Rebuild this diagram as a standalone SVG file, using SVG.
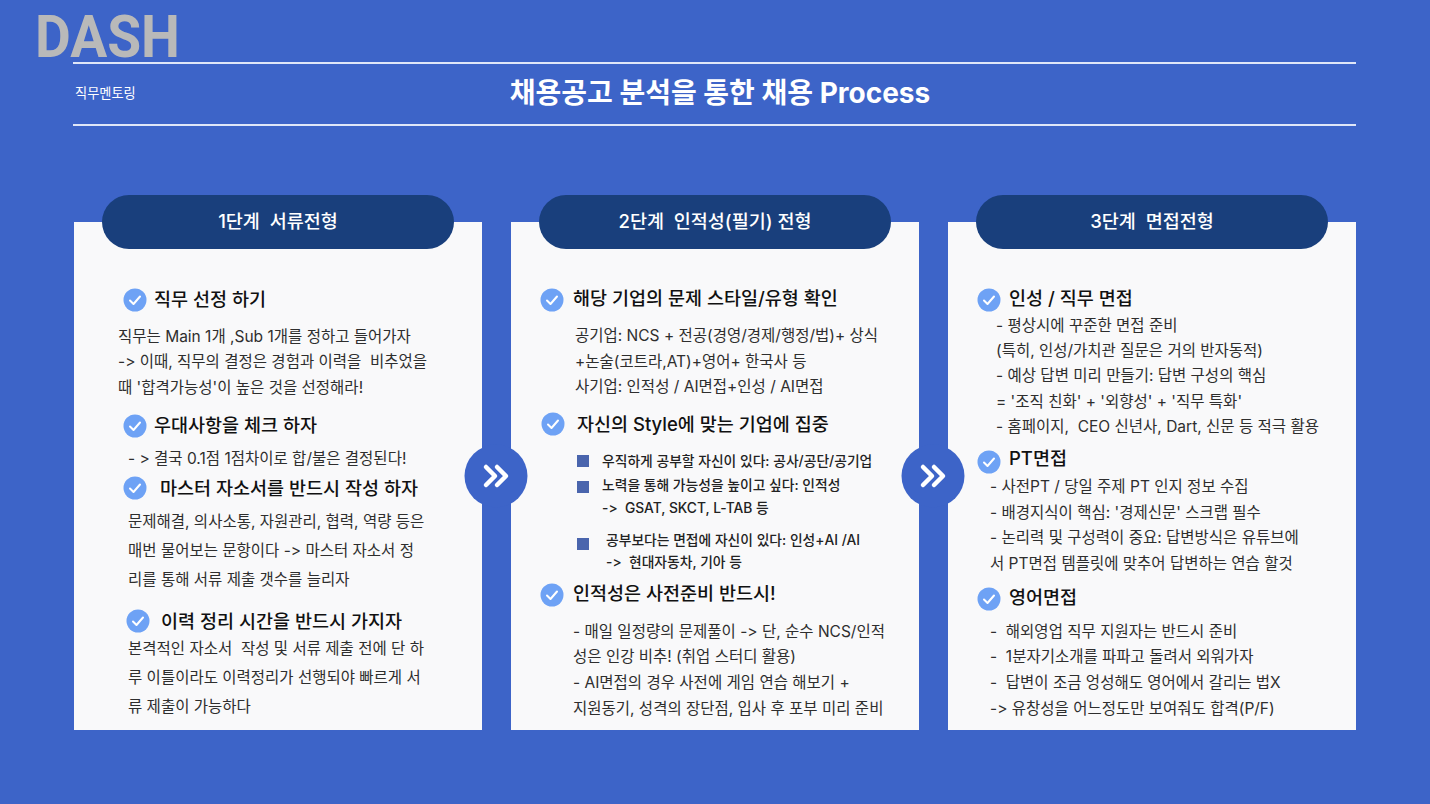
<svg xmlns="http://www.w3.org/2000/svg" width="1430" height="804" viewBox="0 0 1430 804">
<style>
text{font-family:Inter,"Noto Sans CJK KR","Noto Sans",sans-serif;fill:#222;white-space:pre;font-variant-ligatures:none;font-feature-settings:"calt" 0,"liga" 0}
.h{font-size:18.5px;font-weight:500;fill:#111}
.b{font-size:15.5px;fill:#2e2e2e}
.s{font-size:13.8px;font-weight:500;fill:#222}
.t{font-size:18.5px;font-weight:500;fill:#fff;text-anchor:middle}
.card{fill:#f9f9fa}
.pill{fill:#193f7c}
.sq{fill:#4a65ad}
.rule{stroke:#dfe6f8;stroke-width:2}
.chev{fill:none;stroke:#fff;stroke-width:4.5;stroke-linecap:round;stroke-linejoin:round}
.ck{fill:none;stroke:#fff;stroke-width:2;stroke-linecap:round;stroke-linejoin:round}
</style>
<defs>
<g id="check"><circle r="11.5" fill="#6ea2f5"/><path class="ck" d="M-5 0.5L-1.5 4L5 -3.5"/></g>
<g id="next"><circle r="31.5" fill="#3d64c8"/><path class="chev" d="M-10 -9L-1 0L-10 9M1 -9L10 0L1 9"/></g>
</defs>
<rect width="1430" height="804" fill="#3d64c8"/>
<g id="header">
<text x="35" y="57" textLength="145" lengthAdjust="spacingAndGlyphs" style="font-family:Roboto,'Noto Sans',sans-serif;font-size:59px;font-weight:700;fill:#b9b9b9">DASH</text>
<line class="rule" x1="73" y1="63" x2="1356" y2="63"/>
<line class="rule" x1="73" y1="125" x2="1356" y2="125"/>
<text x="75" y="98" style="font-size:13.2px;fill:#fff">직무멘토링</text>
<text x="720" y="103" style="font-size:28px;font-weight:700;fill:#fff;text-anchor:middle">채용공고 분석을 통한 채용 Process</text>
</g>
<g id="stage1">
<rect class="card" x="74" y="222" width="408" height="508"/>
<rect class="pill" x="102" y="195" width="352" height="54" rx="27"/>
<text class="t" x="278" y="228">1단계  서류전형</text>
<use href="#check" x="135" y="300"/><text class="h" x="154" y="306">직무 선정 하기</text>
<text class="b" x="118" y="342">직무는 Main 1개 ,Sub 1개를 정하고 들어가자</text>
<text class="b" x="118" y="367">-&gt; 이때, 직무의 결정은 경험과 이력을  비추었을</text>
<text class="b" x="118" y="393">때 '합격가능성'이 높은 것을 선정해라!</text>
<use href="#check" x="135" y="426"/><text class="h" x="154" y="432">우대사항을 체크 하자</text>
<text class="b" x="128" y="464">- &gt; 결국 0.1점 1점차이로 합/불은 결정된다!</text>
<use href="#check" x="135" y="488"/><text class="h" x="160" y="495">마스터 자소서를 반드시 작성 하자</text>
<text class="b" x="128" y="527">문제해결, 의사소통, 자원관리, 협력, 역량 등은</text>
<text class="b" x="128" y="556">매번 물어보는 문항이다 -&gt; 마스터 자소서 정</text>
<text class="b" x="128" y="585">리를 통해 서류 제출 갯수를 늘리자</text>
<use href="#check" x="138" y="621"/><text class="h" x="161" y="628">이력 정리 시간을 반드시 가지자</text>
<text class="b" x="128" y="654">본격적인 자소서  작성 및 서류 제출 전에 단 하</text>
<text class="b" x="128" y="683">루 이틀이라도 이력정리가 선행되야 빠르게 서</text>
<text class="b" x="128" y="712">류 제출이 가능하다</text>
</g>
<g id="stage2">
<rect class="card" x="511" y="222" width="408" height="508"/>
<rect class="pill" x="539" y="195" width="352" height="54" rx="27"/>
<text class="t" x="715" y="228">2단계  인적성(필기) 전형</text>
<use href="#check" x="552" y="300"/><text class="h" x="573" y="305">해당 기업의 문제 스타일/유형 확인</text>
<text class="b" x="575" y="341">공기업: NCS + 전공(경영/경제/행정/법)+ 상식</text>
<text class="b" x="575" y="367">+논술(코트라,AT)+영어+ 한국사 등</text>
<text class="b" x="575" y="392">사기업: 인적성 / AI면접+인성 / AI면접</text>
<use href="#check" x="553" y="424"/><text class="h" x="577" y="431">자신의 Style에 맞는 기업에 집중</text>
<rect class="sq" x="577" y="455" width="12" height="12"/><text class="s" x="602" y="466">우직하게 공부할 자신이 있다: 공사/공단/공기업</text>
<rect class="sq" x="577" y="481" width="12" height="12"/><text class="s" x="602" y="490">노력을 통해 가능성을 높이고 싶다: 인적성</text>
<text class="s" x="602" y="513">-&gt;  GSAT, SKCT, L-TAB 등</text>
<rect class="sq" x="577" y="538" width="12" height="12"/><text class="s" x="606" y="545">공부보다는 면접에 자신이 있다: 인성+AI /AI</text>
<text class="s" x="606" y="567">-&gt;  현대자동차, 기아 등</text>
<use href="#check" x="552" y="595"/><text class="h" x="573" y="600">인적성은 사전준비 반드시!</text>
<text class="b" x="573" y="637">- 매일 일정량의 문제풀이 -&gt; 단, 순수 NCS/인적</text>
<text class="b" x="573" y="662">성은 인강 비추! (취업 스터디 활용)</text>
<text class="b" x="573" y="688">- AI면접의 경우 사전에 게임 연습 해보기 +</text>
<text class="b" x="573" y="714">지원동기, 성격의 장단점, 입사 후 포부 미리 준비</text>
</g>
<g id="stage3">
<rect class="card" x="948" y="222" width="408" height="508"/>
<rect class="pill" x="976" y="195" width="352" height="54" rx="27"/>
<text class="t" x="1152" y="228">3단계  면접전형</text>
<use href="#check" x="989" y="300"/><text class="h" x="1009" y="305">인성 / 직무 면접</text>
<text class="b" x="996" y="331">- 평상시에 꾸준한 면접 준비</text>
<text class="b" x="996" y="356">(특히, 인성/가치관 질문은 거의 반자동적)</text>
<text class="b" x="996" y="381">- 예상 답변 미리 만들기: 답변 구성의 핵심</text>
<text class="b" x="996" y="407">= '조직 친화' + '외향성' + '직무 특화'</text>
<text class="b" x="996" y="432">- 홈페이지,  CEO 신년사, Dart, 신문 등 적극 활용</text>
<use href="#check" x="989" y="462"/><text class="h" x="1009" y="465">PT면접</text>
<text class="b" x="990" y="492">- 사전PT / 당일 주제 PT 인지 정보 수집</text>
<text class="b" x="990" y="518">- 배경지식이 핵심: '경제신문' 스크랩 필수</text>
<text class="b" x="990" y="543">- 논리력 및 구성력이 중요: 답변방식은 유튜브에</text>
<text class="b" x="990" y="569">서 PT면접 템플릿에 맞추어 답변하는 연습 할것</text>
<use href="#check" x="989" y="599"/><text class="h" x="1009" y="604">영어면접</text>
<text class="b" x="990" y="637">-  해외영업 직무 지원자는 반드시 준비</text>
<text class="b" x="990" y="662">-  1분자기소개를 파파고 돌려서 외워가자</text>
<text class="b" x="990" y="688">-  답변이 조금 엉성해도 영어에서 갈리는 법X</text>
<text class="b" x="990" y="714">-&gt; 유창성을 어느정도만 보여줘도 합격(P/F)</text>
</g>
<g id="connectors">
<use href="#next" x="496" y="476"/>
<use href="#next" x="933" y="476"/>
</g>
</svg>
